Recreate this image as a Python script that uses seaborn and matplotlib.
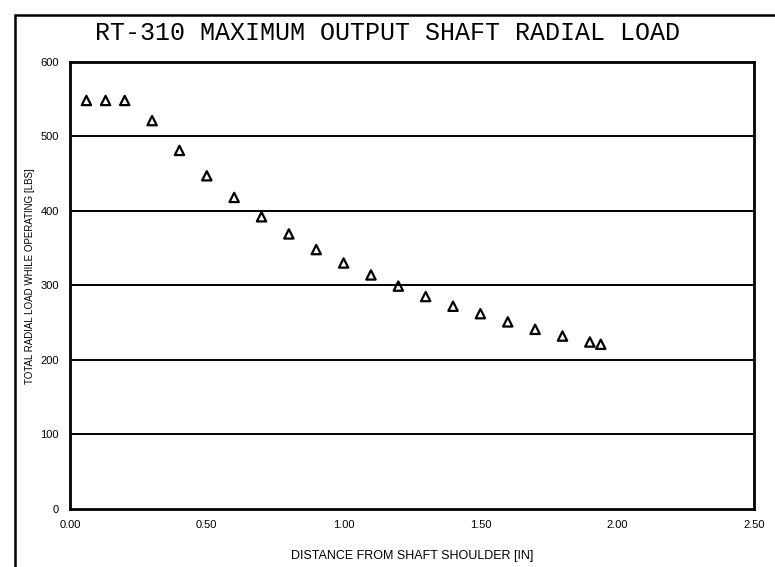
import matplotlib
matplotlib.use("Agg")
import matplotlib.pyplot as plt
import seaborn as sns
import pandas as pd
from matplotlib.patches import Rectangle

# distance from shaft shoulder [in] and max radial load [lbs]
distance_in = [0.06, 0.13, 0.20, 0.30, 0.40, 0.50, 0.60, 0.70, 0.80, 0.90, 1.00,
               1.10, 1.20, 1.30, 1.40, 1.50, 1.60, 1.70, 1.80, 1.90, 1.94]
load_lbs = [548, 548, 548, 521, 481, 447, 418, 392, 369, 348, 330,
            314, 299, 285, 272, 262, 251, 241, 232, 224, 221]

x_ticks = [0.0, 0.5, 1.0, 1.5, 2.0, 2.5]
x_tick_labels = ["0.00", "0.50", "1.00", "1.50", "2.00", "2.50"]
y_ticks = [0, 100, 200, 300, 400, 500, 600]

df = pd.DataFrame({"distance": distance_in, "load": load_lbs})

sns.set_style("white")
plt.rcParams["font.family"] = ["Liberation Sans", "DejaVu Sans"]
plt.rcParams["text.color"] = "black"
plt.rcParams["axes.labelcolor"] = "black"

fig = plt.figure(figsize=(7.75, 5.67), dpi=100)
ax = fig.add_axes([70 / 775, 1 - 509 / 567, 684 / 775, (509 - 61.7) / 567])

# outer drawing frame (runs off the right and bottom edges)
fig.patches.append(Rectangle((15 / 775, -0.1), 1.2, 1.1 - 15 / 567,
                             transform=fig.transFigure, fill=False,
                             edgecolor="black", linewidth=1.8))

for y in y_ticks[1:-1]:
    ax.axhline(y, color="black", linewidth=1.4, zorder=1)

sns.scatterplot(data=df, x="distance", y="load", marker="^", s=45,
                facecolor="none", edgecolor="black", linewidth=1.6,
                ax=ax, zorder=3)

ax.set_xlim(0, 2.5)
ax.set_ylim(0, 600)
ax.set_xticks(x_ticks)
ax.set_xticklabels(x_tick_labels)
ax.set_yticks(y_ticks)
ax.tick_params(axis="both", length=0, labelsize=8, colors="black")
ax.tick_params(axis="y", pad=8)
ax.tick_params(axis="x", pad=8)
for s in ax.spines.values():
    s.set_color("black")
    s.set_linewidth(2)

ax.set_xlabel("DISTANCE FROM SHAFT SHOULDER [IN]", fontsize=9, labelpad=14)
ax.set_ylabel("TOTAL RADIAL LOAD WHILE OPERATING [LBS]", fontsize=7, va="center")
ax.yaxis.set_label_coords(-0.0585, 0.521)

fig.text(0.5, 1 - 33 / 567, "RT-310 MAXIMUM OUTPUT SHAFT RADIAL LOAD",
         ha="center", va="center", fontsize=18, family="Liberation Mono",
         color="black")

fig.savefig("out.png", dpi=100)
